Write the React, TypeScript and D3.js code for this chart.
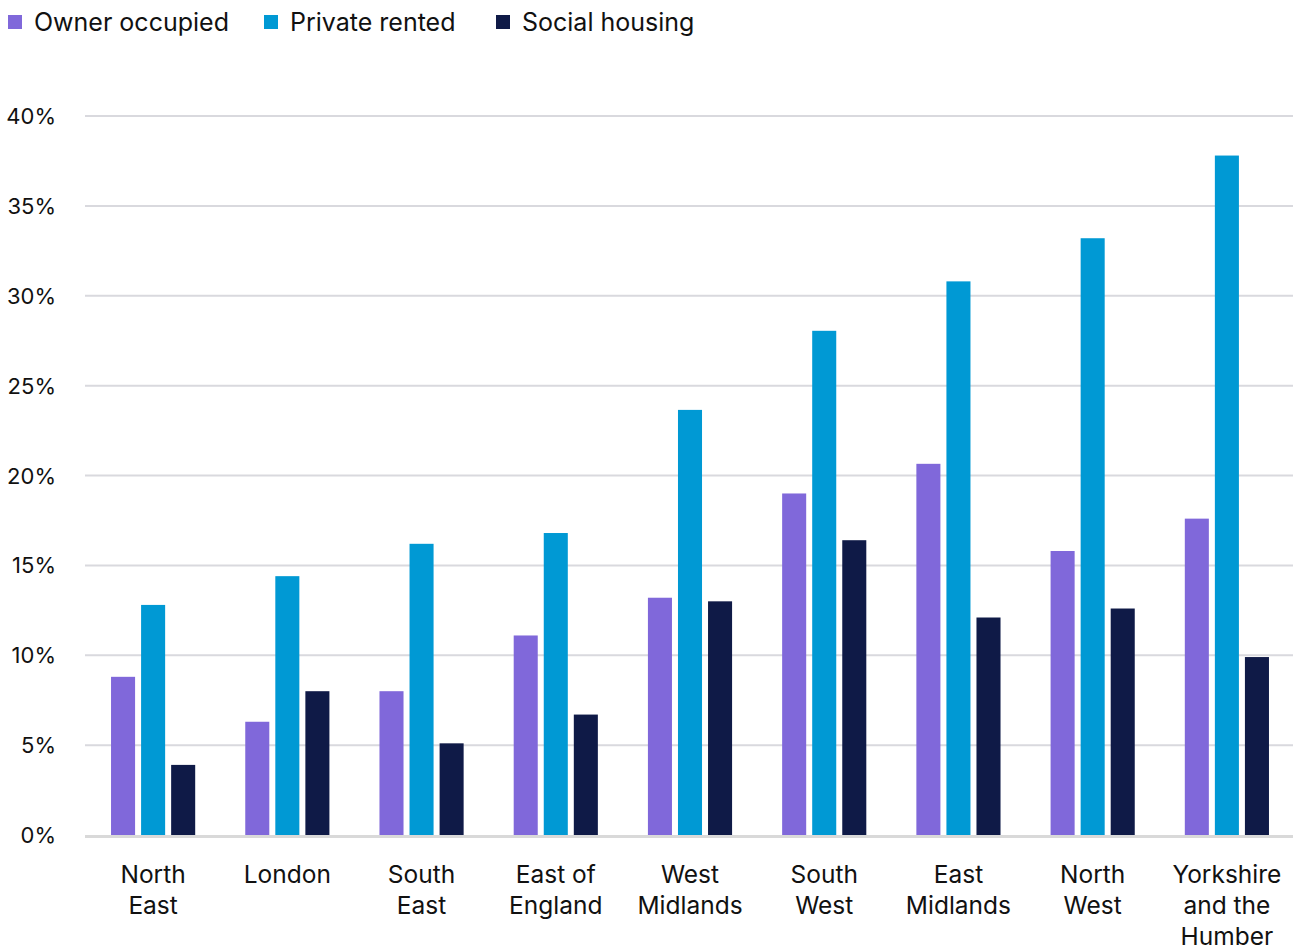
import React from "react";
import * as d3 from "d3";

const categories = [
  ["North", "East"],
  ["London"],
  ["South", "East"],
  ["East of", "England"],
  ["West", "Midlands"],
  ["South", "West"],
  ["East", "Midlands"],
  ["North", "West"],
  ["Yorkshire", "and the", "Humber"],
];
const seriesNames = ["Owner occupied", "Private rented", "Social housing"];
const ownerOccupied = [8.8, 6.3, 8.0, 11.1, 13.2, 19.0, 20.65, 15.8, 17.6];
const privateRented = [12.8, 14.4, 16.2, 16.8, 23.65, 28.05, 30.8, 33.2, 37.8];
const socialHousing = [3.9, 8.0, 5.1, 6.7, 13.0, 16.4, 12.1, 12.6, 9.9];
const yTicks = [0, 5, 10, 15, 20, 25, 30, 35, 40];
const colors = ["#8068DA", "#0099D4", "#0F1A47"];

const W = 1298;
const H = 947;
const FONT = "Inter, 'Noto Sans', sans-serif";

export default function App() {
  const series = [ownerOccupied, privateRented, socialHousing];
  const x0 = d3
    .scaleBand<number>()
    .domain(categories.map((_, i) => i))
    .range([86, 1294])
    .paddingInner(0.373)
    .paddingOuter(0.1865);
  const x1 = d3
    .scaleBand<number>()
    .domain([0, 1, 2])
    .range([0, x0.bandwidth()])
    .paddingInner(0.2);
  const y = d3.scaleLinear().domain([0, 40]).range([835, 116]);
  const legendX = [8, 264, 496];

  return (
    <svg
      width={W}
      height={H}
      style={{ position: "absolute", left: 0, top: 0, background: "#fff" }}
      fontFamily={FONT}
    >
      {seriesNames.map((name, i) => (
        <g key={name}>
          <rect x={legendX[i]} y={15} width={14} height={14} fill={colors[i]} />
          <text x={legendX[i] + 26} y={31} fontSize={25} fill="#111">
            {name}
          </text>
        </g>
      ))}
      {yTicks.map((t) => (
        <g key={t}>
          {t > 0 && (
            <line x1={85} x2={1293} y1={y(t)} y2={y(t)} stroke="#D9D9DE" strokeWidth={2} />
          )}
          <text x={56} y={y(t) + 8} textAnchor="end" fontSize={22} fill="#111">
            {t}%
          </text>
        </g>
      ))}
      {categories.map((lines, ci) =>
        series.map((vals, si) => (
          <rect
            key={`${ci}-${si}`}
            x={(x0(ci) ?? 0) + (x1(si) ?? 0)}
            y={y(vals[ci])}
            width={x1.bandwidth()}
            height={y(0) - y(vals[ci])}
            fill={colors[si]}
          />
        ))
      )}
      <line x1={85} x2={1293} y1={y(0) + 1.5} y2={y(0) + 1.5} stroke="#D9D9D9" strokeWidth={3} />
      {categories.map((lines, ci) => (
        <text
          key={ci}
          x={(x0(ci) ?? 0) + x0.bandwidth() / 2}
          textAnchor="middle"
          fontSize={24.5}
          fill="#111"
        >
          {lines.map((l, li) => (
            <tspan key={li} x={(x0(ci) ?? 0) + x0.bandwidth() / 2} y={883 + li * 31}>
              {l}
            </tspan>
          ))}
        </text>
      ))}
    </svg>
  );
}
